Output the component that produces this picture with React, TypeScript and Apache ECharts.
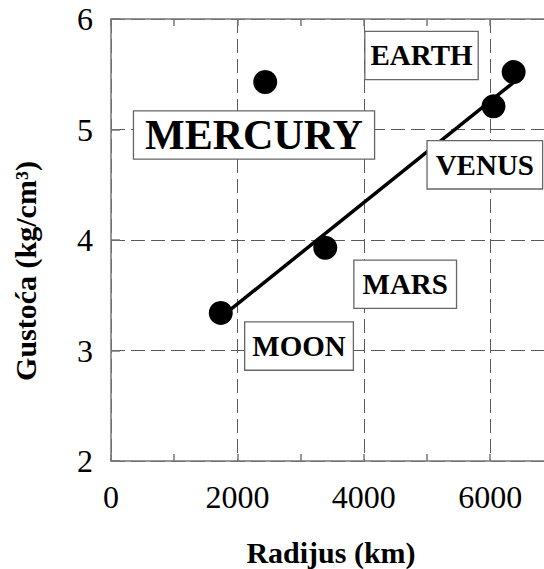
import React, { useEffect, useRef } from 'react';
import * as echarts from 'echarts';

const planets = ['MOON', 'MARS', 'MERCURY', 'VENUS', 'EARTH'];
const radius = [1737, 3390, 2440, 6052, 6371];
const density = [3.34, 3.93, 5.43, 5.21, 5.52];

const fitX = [1737, 6380];
const fitY = [3.3, 5.43];

const labelX = [2975, 4655, 2263, 5915, 4913];
const labelY = [3.04, 3.6, 4.95, 4.68, 5.67];
const labelFont = [29, 29, 42, 29, 29];
const labelPadH = [7, 8, 11, 8, 5];

const xMin = 0;
const xMax = 8000;
const xInterval = 2000;
const yMin = 2;
const yMax = 6;
const yInterval = 1;

const xTitle = 'Radijus (km)';
const yTitle = 'Gustoća (kg/cm³)';

const SERIF = '"Liberation Serif", "Times New Roman", serif';

export default function App() {
  const ref = useRef<HTMLDivElement>(null);
  useEffect(() => {
    const chart = echarts.init(ref.current!, null, { renderer: 'svg' });
    const axisColor = '#777';
    const gridColor = '#5a5a5a';
    chart.setOption({
      animation: false,
      backgroundColor: '#fff',
      grid: {
        left: 111,
        top: 19,
        right: -72.6,
        bottom: 108,
        containLabel: false,
        outerBoundsMode: 'none',
      },
      xAxis: [
        {
          type: 'value',
          min: xMin,
          max: xMax,
          interval: xInterval,
          position: 'bottom',
          axisLine: { show: true, onZero: false, lineStyle: { color: axisColor, width: 1.5 } },
          axisTick: { show: true, inside: true, length: 7, lineStyle: { color: axisColor, width: 1.5 } },
          minorTick: { show: true, splitNumber: 2, length: 7, lineStyle: { color: axisColor, width: 1.5 } },
          axisLabel: {
            show: true,
            margin: 20,
            color: '#000',
            fontFamily: SERIF,
            fontSize: 32,
            formatter: (v: number) => (v >= xMax ? '' : String(v)),
          },
          splitLine: { show: true, lineStyle: { color: gridColor, width: 1, type: [14, 6] } },
        },
        {
          type: 'value',
          min: xMin,
          max: xMax,
          interval: xInterval,
          position: 'top',
          axisLine: { show: true, onZero: false, lineStyle: { color: axisColor, width: 1.5 } },
          axisTick: { show: true, inside: true, length: 7, lineStyle: { color: axisColor, width: 1.5 } },
          minorTick: { show: true, splitNumber: 2, length: 7, lineStyle: { color: axisColor, width: 1.5 } },
          axisLabel: { show: false },
          splitLine: { show: false },
        },
      ],
      yAxis: {
        type: 'value',
        min: yMin,
        max: yMax,
        interval: yInterval,
        axisLine: { show: true, onZero: false, lineStyle: { color: axisColor, width: 1.5 } },
        axisTick: { show: true, inside: true, length: 9, lineStyle: { color: axisColor, width: 1.5 } },
        axisLabel: {
          show: true,
          margin: 18,
          color: '#000',
          fontFamily: SERIF,
          fontSize: 32,
          formatter: (v: number) => String(v),
        },
        splitLine: { show: true, lineStyle: { color: gridColor, width: 1, type: [14, 6] } },
      },
      series: [
        {
          type: 'line',
          xAxisIndex: 0,
          data: fitX.map((x, i) => [x, fitY[i]]),
          symbol: 'none',
          lineStyle: { color: '#000', width: 3.5, opacity: 1 },
          z: 3,
          silent: true,
        },
        {
          type: 'scatter',
          xAxisIndex: 0,
          data: radius.map((r, i) => ({ name: planets[i], value: [r, density[i]] })),
          symbol: 'circle',
          symbolSize: 24,
          itemStyle: { color: '#000', opacity: 1 },
          z: 4,
          silent: true,
        },
        {
          type: 'scatter',
          xAxisIndex: 0,
          symbolSize: 0,
          z: 5,
          silent: true,
          itemStyle: { color: '#000', opacity: 1 },
          data: planets.map((p, i) => ({
            name: p,
            value: [labelX[i], labelY[i]],
            label: {
              show: true,
              position: 'inside',
              formatter: p,
              fontFamily: SERIF,
              fontWeight: 'bold',
              fontSize: labelFont[i],
              lineHeight: labelFont[i] === 42 ? 42 : 29,
              color: '#000',
              opacity: 1,
              backgroundColor: '#fff',
              borderColor: '#666',
              borderWidth: 1.3,
              padding: labelFont[i] === 42 ? [3, labelPadH[i], 2, labelPadH[i]] : [9, labelPadH[i], 9, labelPadH[i]],
            },
          })),
        },
      ],
      graphic: [
        {
          type: 'text',
          x: 331,
          y: 552,
          style: {
            text: xTitle,
            font: `bold 30px ${SERIF}`,
            fill: '#000',
            align: 'center',
            verticalAlign: 'middle',
          },
        },
        {
          type: 'text',
          x: 25,
          y: 271,
          rotation: Math.PI / 2,
          style: {
            text: yTitle,
            font: `bold 30px ${SERIF}`,
            fill: '#000',
            align: 'center',
            verticalAlign: 'middle',
          },
        },
      ],
    });
    return () => chart.dispose();
  }, []);
  return (
    <div
      ref={ref}
      style={{ position: 'fixed', left: 0, top: 0, width: 544, height: 569, background: '#fff' }}
    />
  );
}
